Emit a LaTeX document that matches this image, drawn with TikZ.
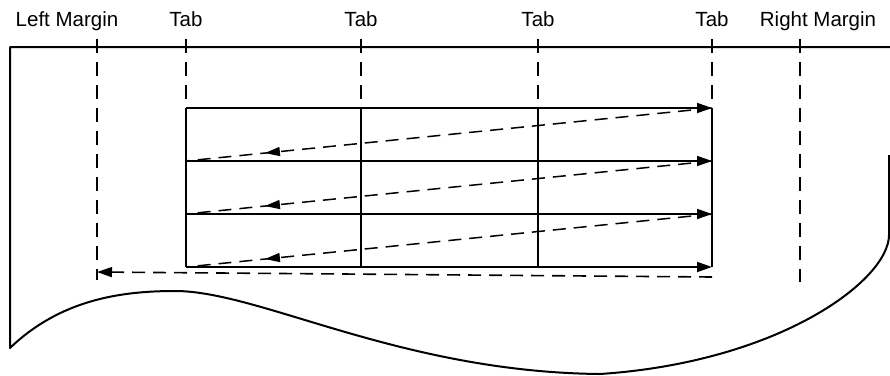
\documentclass[tikz,border=0pt]{standalone}
\usepackage{fontspec}
\setmainfont{Liberation Sans}
\usetikzlibrary{arrows.meta,decorations.markings}
\begin{document}
\begin{tikzpicture}[x=1pt,y=-1pt,
  paper/.style={line width=2pt, line join=round},
  guide/.style={line width=1.6pt, dash pattern=on 14pt off 9pt},
  rowline/.style={line width=1.8pt, -{Triangle[length=15pt,width=10pt]}},
  cell/.style={line width=1.2pt},
  ret/.style={line width=1.5pt, dash pattern=on 13pt off 8pt, postaction={decorate},
    decoration={markings, mark=at position 0.85 with {\arrow{Triangle[length=15pt,width=9pt]}}}},
  back/.style={line width=1.6pt, dash pattern=on 13pt off 8pt, -{Triangle[length=15pt,width=10pt]}},
  lbl/.style={font=\fontsize{20.5}{24}\selectfont, anchor=base, inner sep=0pt}]
\useasboundingbox (0,0) rectangle (890,375);
% labels
\node[lbl] (lm) at (67,26) {Left Margin};
\node[lbl] (t1) at (186,26) {Tab};
\node[lbl] (t2) at (361,26) {Tab};
\node[lbl] (t3) at (538,26) {Tab};
\node[lbl] (t4) at (712,26) {Tab};
\node[lbl] (rm) at (818,26) {Right Margin};
% paper
\draw[paper] (890,47) -- (10,47) -- (10,348)
  .. controls (60,300) and (120,291) .. (175,291)
  .. controls (260,291) and (400,372) .. (600,374)
  .. controls (780,362) and (889,280) .. (889,235)
  -- (889,155);
% coordinates of grid
\foreach \n/\x in {1/186,2/361,3/538,4/712}{
  \foreach \m/\y in {1/108,2/161,3/214,4/267}{
    \coordinate (g\n\m) at (\x,\y);
  }
}
\coordinate (lmt) at (97,39); \coordinate (lmb) at (97,280);
\coordinate (rmt) at (800,39); \coordinate (rmb) at (800,282);
\foreach \n/\x in {1/186,2/361,3/538,4/712}{ \coordinate (tt\n) at (\x,39); }
% guides
\draw[guide] (lmt) -- (lmb);
\draw[guide] (rmt) -- (rmb);
\foreach \n in {1,2,3,4}{ \draw[guide] (tt\n) -- (g\n1); }
% cells
\draw[cell] (g11) -- (g14);
\draw[cell] (g21) -- (g24);
\draw[cell] (g31) -- (g34);
\draw[line width=1.8pt] (g41) -- (g44);
% rows
\foreach \m in {1,2,3,4}{ \draw[rowline] (g1\m) -- (g4\m); }
% returns
\draw[ret] (g41) -- (g12);
\draw[ret] (g42) -- (g13);
\draw[ret] (g43) -- (g14);
\coordinate (bs) at (712,277);
\coordinate (be) at (97,272);
\draw[back] (bs) -- (be);
\end{tikzpicture}
\end{document}
